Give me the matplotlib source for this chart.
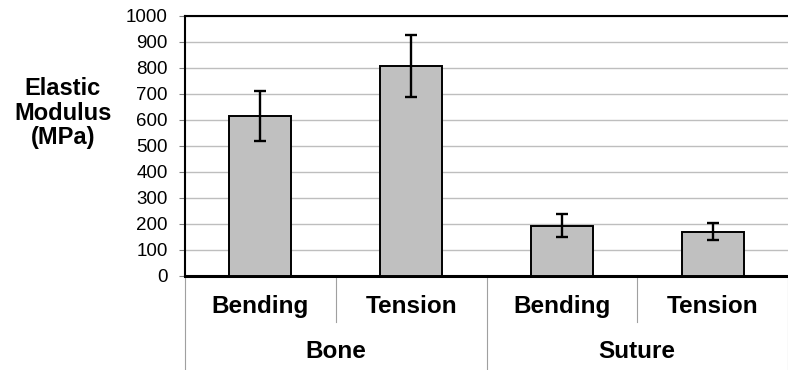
import matplotlib.pyplot as plt
import matplotlib.transforms as mtransforms

plt.rcParams['font.family'] = ['Liberation Sans', 'DejaVu Sans']

tests = ["Bending", "Tension", "Bending", "Tension"]
groups = ["Bone", "Suture"]
modulus = [614, 808, 194, 171]
err = [96, 120, 43, 33]
yticks = list(range(0, 1001, 100))

fig = plt.figure(figsize=(7.88, 3.70), dpi=100)
ax = fig.add_axes([185 / 788, 1 - 276 / 370, 1 - 185 / 788, 260 / 370])

x = list(range(len(tests)))
ax.bar(x, modulus, width=0.41, color="#C0C0C0", edgecolor="black", linewidth=1.4, zorder=3)
ax.errorbar(x, modulus, yerr=err, fmt="none", ecolor="black", elinewidth=1.7,
            capsize=4, capthick=1.7, zorder=4)

ax.set_xlim(-0.5, len(tests) - 0.5)
ax.set_ylim(0, 1000)
ax.set_yticks(yticks)
ax.set_yticklabels([str(v) for v in yticks], fontsize=13.5)
ax.tick_params(axis="y", length=4.5, color="#808080", pad=8)
ax.set_xticks([])
ax.yaxis.grid(True, color="#BEBEBE", linewidth=1.0, zorder=0)
ax.set_axisbelow(True)

ax.spines["right"].set_visible(False)
ax.spines["top"].set_linewidth(1.5)
ax.spines["left"].set_linewidth(1.5)
ax.spines["bottom"].set_linewidth(2.2)

trans = mtransforms.blended_transform_factory(ax.transData, ax.transAxes)
for i, t in enumerate(tests):
    ax.text(i, -0.119, t, transform=trans, ha="center", va="center",
            fontsize=17.5, fontweight="bold")
for xd in [0.5, 2.5]:
    ax.plot([xd, xd], [0, -0.177], transform=trans, color="#A0A0A0",
            linewidth=0.8, clip_on=False)
for xd in [-0.5, 1.5, 3.5]:
    ax.plot([xd, xd], [0, -0.37], transform=trans, color="#A0A0A0",
            linewidth=0.8, clip_on=False)
for j, g in enumerate(groups):
    ax.text(2 * j + 0.5, -0.292, g, transform=trans, ha="center", va="center",
            fontsize=17.5, fontweight="bold")

fig.text(63 / 788, 1 - 113 / 370, "Elastic\nModulus\n(MPa)", ha="center", va="center",
         fontsize=17, fontweight="bold", linespacing=1.1)

fig.savefig("out.png", dpi=100)
